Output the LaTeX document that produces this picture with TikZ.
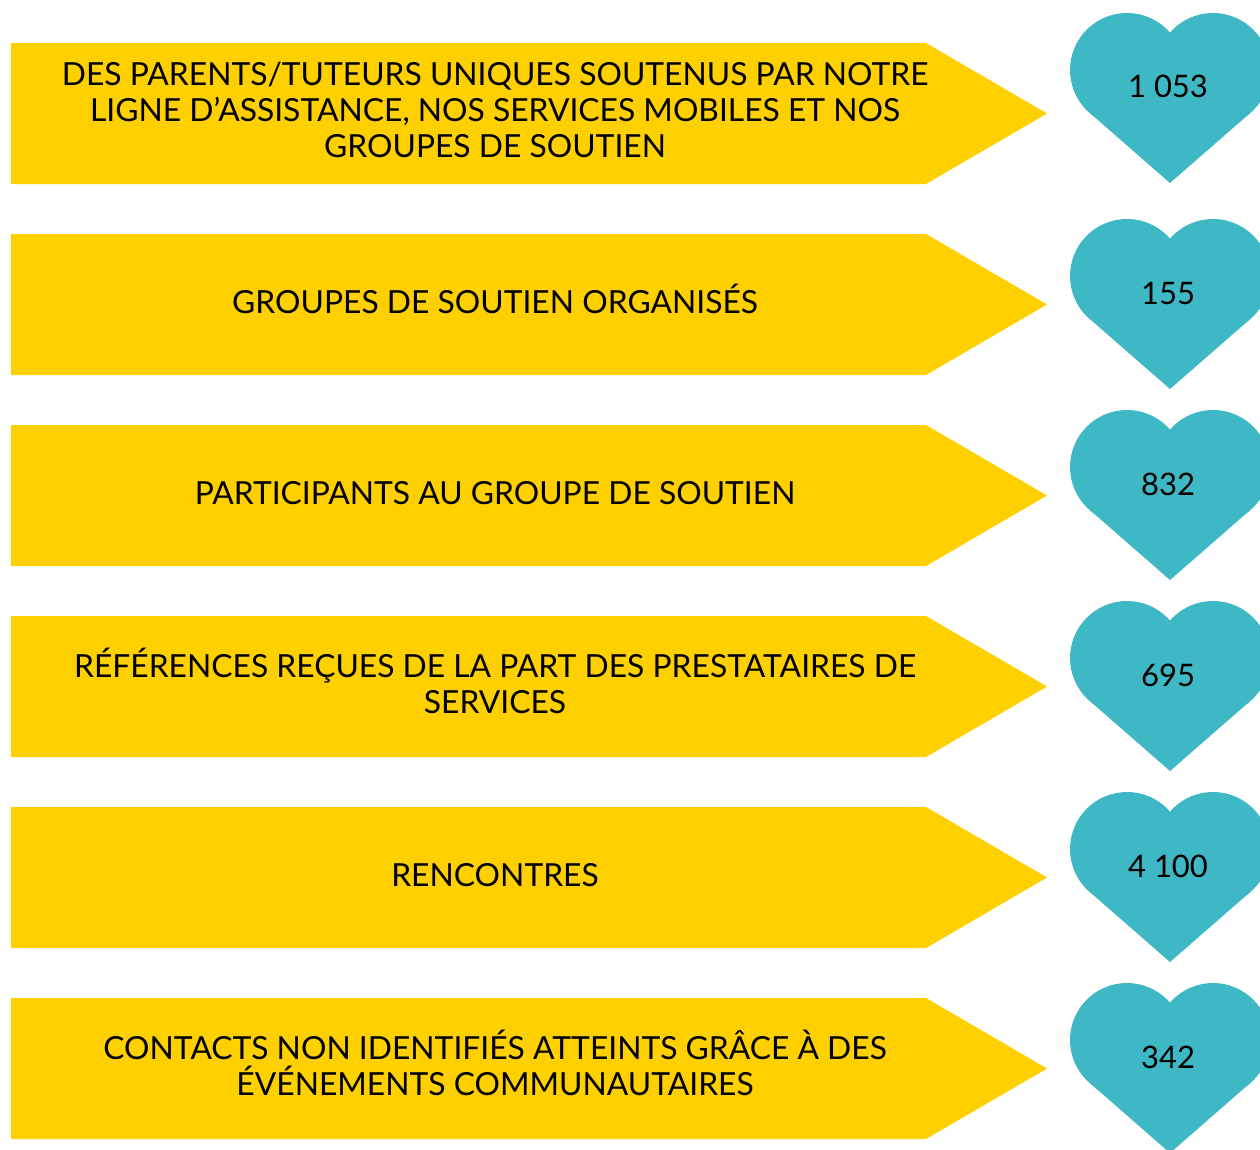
\documentclass[tikz,border=0pt]{standalone}
\usepackage{fontspec}
\setmainfont{Lato}
\definecolor{ylw}{HTML}{FFD000}
\definecolor{tealh}{HTML}{3FB8C5}
\begin{document}
\begin{tikzpicture}[x=1pt,y=-1pt,
  arrowfill/.style={fill=ylw},
  heartfill/.style={fill=tealh},
  lbl/.style={font=\fontsize{31.8}{36}\selectfont, align=center, text=black, inner sep=0pt},
  num/.style={font=\fontsize{31}{36}\selectfont, text=black, inner sep=0pt}]
\useasboundingbox (0,0) rectangle (1260,1149);
\clip (0,0) rectangle (1260,1149);
\foreach \i in {0,...,5}{
  \pgfmathsetmacro\t{43+191*\i}
  \fill[arrowfill] (11,\t) -- (926,\t) -- (1047,\t+70.5) -- (926,\t+141) -- (11,\t+141) -- cycle;
}
\foreach \h in {13,219,410,601,792,983}{
  \fill[heartfill] (1127,\h+57) circle[radius=57pt];
  \fill[heartfill] (1213,\h+57) circle[radius=57pt];
  \fill[heartfill] (1089.7,\h+99.9) -- (1170,\h+170) -- (1250.3,\h+99.9) -- (1213,\h+57) -- (1127,\h+57) -- cycle;
}
\node[lbl] (t1) at (495,110) {DES PARENTS/TUTEURS UNIQUES SOUTENUS PAR NOTRE\\LIGNE D'ASSISTANCE, NOS SERVICES MOBILES ET NOS\\GROUPES DE SOUTIEN};
\node[lbl] (t2) at (495,299) {GROUPES DE SOUTIEN ORGANISÉS};
\node[lbl] (t3) at (495,493) {PARTICIPANTS AU GROUPE DE SOUTIEN};
\node[lbl] (t4) at (495,681) {RÉFÉRENCES REÇUES DE LA PART DES PRESTATAIRES DE\\SERVICES};
\node[lbl] (t5) at (495,875) {RENCONTRES};
\node[lbl] (t6) at (495,1063) {CONTACTS NON IDENTIFIÉS ATTEINTS GRÂCE À DES\\ÉVÉNEMENTS COMMUNAUTAIRES};
\node[num] (n1) at (1168,86) {1 053};
\node[num] (n2) at (1168,293) {155};
\node[num] (n3) at (1168,484) {832};
\node[num] (n4) at (1168,675) {695};
\node[num] (n5) at (1168,866) {4 100};
\node[num] (n6) at (1168,1057) {342};
\end{tikzpicture}
\end{document}
